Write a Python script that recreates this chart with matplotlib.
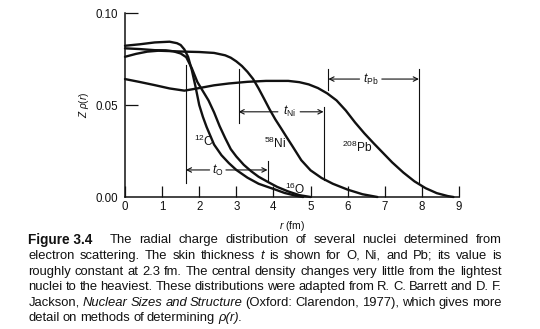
import matplotlib
matplotlib.use("Agg")
import matplotlib.pyplot as plt

plt.rcParams["font.family"] = ["Liberation Sans", "DejaVu Sans"]
plt.rcParams["mathtext.fontset"] = "custom"
plt.rcParams["mathtext.rm"] = "Liberation Sans"
plt.rcParams["mathtext.it"] = "Liberation Sans:italic"
plt.rcParams["mathtext.bf"] = "Liberation Sans:bold"

# Charge density Z*rho(r) read for each nucleus (r in fm)
r_c = [0, 0.4, 0.8, 1.2, 1.4, 1.5, 1.6, 1.7, 1.8, 1.9, 2.0, 2.1, 2.2, 2.4, 2.6, 2.8,
       3.0, 3.3, 3.6, 3.84, 4.0, 4.3, 4.6, 4.8]
rho_c = [0.0822, 0.0830, 0.0840, 0.0844, 0.0836, 0.0826, 0.0802, 0.0762, 0.0690,
         0.0600, 0.0500, 0.0435, 0.0380, 0.0285, 0.0227, 0.0184, 0.0147, 0.0105,
         0.0072, 0.0055, 0.0044, 0.0022, 0.0007, 0.0]

r_o = [0, 0.4, 0.8, 1.1, 1.3, 1.5, 1.65, 1.8, 1.95, 2.1, 2.25, 2.4, 2.55, 2.7, 2.85,
       3.0, 3.2, 3.4, 3.6, 3.84, 4.1, 4.4, 4.7, 5.0]
rho_o = [0.0808, 0.0804, 0.0798, 0.0797, 0.0792, 0.0780, 0.0760, 0.0700, 0.0625,
         0.0575, 0.0525, 0.0460, 0.0385, 0.0320, 0.0260, 0.0220, 0.0175, 0.0140,
         0.0110, 0.0083, 0.0055, 0.0030, 0.0010, 0.0]

r_ni = [0, 0.3, 0.6, 0.9, 1.2, 1.6, 2.0, 2.4, 2.7, 2.85, 3.0, 3.15, 3.3, 3.45, 3.6,
        3.75, 3.9, 4.05, 4.2, 4.35, 4.5, 4.75, 5.0, 5.3, 5.6, 6.0, 6.4, 6.8]
rho_ni = [0.0762, 0.0778, 0.0790, 0.0795, 0.0793, 0.0790, 0.0788, 0.0783, 0.0770,
          0.0757, 0.0737, 0.0712, 0.0680, 0.0642, 0.0590, 0.0533, 0.0475, 0.0422,
          0.0375, 0.0327, 0.0280, 0.0200, 0.0145, 0.0103, 0.0072, 0.0040, 0.0015,
          0.0]

r_pb = [0, 0.4, 0.8, 1.2, 1.6, 2.0, 2.4, 2.8, 3.3, 3.8, 4.4, 4.7, 4.95, 5.2, 5.45,
        5.7, 5.95, 6.2, 6.45, 6.7, 6.95, 7.2, 7.5, 7.8, 8.1, 8.4, 8.7, 8.85]
rho_pb = [0.0641, 0.0625, 0.0608, 0.0590, 0.0578, 0.0592, 0.0607, 0.0617, 0.0626,
          0.0631, 0.0631, 0.0624, 0.0612, 0.0592, 0.0563, 0.0525, 0.0470, 0.0405,
          0.0346, 0.0292, 0.0240, 0.0188, 0.0133, 0.0085, 0.0048, 0.0021, 0.0005,
          0.0]

# Skin thickness markers: (left r, right r, arrow height, left bar span, right bar span, label r)
skin_labels = [r"$t_{\mathrm{O}}$", r"$t_{\mathrm{Ni}}$", r"$t_{\mathrm{Pb}}$"]
skin_left = [1.64, 3.06, 5.48]
skin_right = [3.84, 5.35, 7.92]
skin_y = [0.0147, 0.0463, 0.0641]
skin_left_span = [(0.0076, 0.0717), (0.0400, 0.0694), (0.0580, 0.0696)]
skin_right_span = [(0.0080, 0.0196), (0.0092, 0.0490), (0.0076, 0.0696)]
skin_label_r = [2.50, 4.42, 6.62]

nuclei_labels = [r"$^{12}$C", r"$^{58}$Ni", r"$^{16}$O", r"$^{208}$Pb"]
nuclei_label_pos = [(2.13, 0.0300), (4.04, 0.0293), (4.58, 0.0043), (6.25, 0.0272)]

x_ticks = list(range(0, 10))
y_ticks = [0.00, 0.05, 0.10]
y_tick_labels = ["0.00", "0.05", "0.10"]

caption_lines = [
    [("Figure 3.4", "bold"), ("The", "n"), ("radial", "n"), ("charge", "n"),
     ("distribution", "n"), ("of", "n"), ("several", "n"), ("nuclei", "n"),
     ("determined", "n"), ("from", "n")],
    [("electron", "n"), ("scattering.", "n"), ("The", "n"), ("skin", "n"),
     ("thickness", "n"), ("t", "it"), ("is", "n"), ("shown", "n"), ("for", "n"),
     ("O,", "n"), ("Ni,", "n"), ("and", "n"), ("Pb;", "n"), ("its", "n"),
     ("value", "n"), ("is", "n")],
    [(w, "n") for w in "roughly constant at 2.3 fm. The central density changes very little from the lightest".split()],
    [(w, "n") for w in "nuclei to the heaviest. These distributions were adapted from R. C. Barrett and D. F.".split()],
    [("Jackson,", "n"), ("Nuclear", "it"), ("Sizes", "it"), ("and", "it"),
     ("Structure", "it"), ("(Oxford:", "n"), ("Clarendon,", "n"), ("1977),", "n"),
     ("which", "n"), ("gives", "n"), ("more", "n")],
    [("detail", "n"), ("on", "n"), ("methods", "n"), ("of", "n"),
     ("determining", "n"), ("ρ(r).", "it")],
]

W, H = 540, 329
fig = plt.figure(figsize=(W / 100, H / 100), dpi=100)
ax = fig.add_axes([125 / W, 1 - 197 / H, (459 - 125) / W, (197 - 13) / H])

lw = 1.7
ink = "#111111"
for rr, vv in [(r_c, rho_c), (r_o, rho_o), (r_ni, rho_ni), (r_pb, rho_pb)]:
    ax.plot(rr, vv, color=ink, lw=lw, solid_capstyle="round",
            solid_joinstyle="round", clip_on=False)

thin = 0.8
for lab, xl, xr, yy, ls, rs, xlab in zip(skin_labels, skin_left, skin_right, skin_y,
                                          skin_left_span, skin_right_span, skin_label_r):
    ax.plot([xl, xl], ls, color=ink, lw=thin)
    ax.plot([xr, xr], rs, color=ink, lw=thin)
    ax.text(xlab, yy, lab, ha="center", va="center", fontsize=8.8, color=ink)
    gap = 0.3 if "Pb" in lab or "Ni" in lab else 0.22
    arrow = dict(arrowstyle="->", color=ink, lw=thin, shrinkA=0, shrinkB=0,
                 mutation_scale=8)
    ax.annotate("", xy=(xl, yy), xytext=(xlab - gap, yy), arrowprops=arrow)
    ax.annotate("", xy=(xr, yy), xytext=(xlab + gap, yy), arrowprops=arrow)

for lab, (xp, yp) in zip(nuclei_labels, nuclei_label_pos):
    ax.text(xp, yp, lab, ha="center", va="center", fontsize=8.6, color=ink)

ax.set_xlim(0, 9)
ax.set_ylim(0, 0.1)
for s in ["top", "right"]:
    ax.spines[s].set_visible(False)
for s in ["left", "bottom"]:
    ax.spines[s].set_linewidth(1.1)
    ax.spines[s].set_color(ink)
ax.set_xticks(x_ticks)
ax.set_xticklabels([str(t) for t in x_ticks])
ax.set_yticks(y_ticks)
ax.set_yticklabels(y_tick_labels)
ax.tick_params(axis="x", direction="in", length=8, width=0.9, pad=3,
               labelsize=8.3, colors=ink)
ax.tick_params(axis="y", direction="in", length=9.5, width=0.9, pad=5,
               labelsize=8.3, colors=ink)
ax.yaxis.get_major_ticks()[0].tick1line.set_visible(False)
ax.set_xlabel(r"$r$ (fm)", fontsize=7.5, labelpad=4, color=ink)
ax.set_ylabel(r"$Z\ \rho(r)$", fontsize=7.2, labelpad=3, color=ink)

# Justified caption set word by word
renderer = fig.canvas.get_renderer()
left_px, right_px = 28.5, 501.5
line_y = [240, 256, 271.7, 287.3, 302.8, 318.3]
cap_size = 9.4
for i, (words, yc) in enumerate(zip(caption_lines, line_y)):
    objs = []
    for w, sty in words:
        kw = dict(fontsize=cap_size, color=ink, va="center", ha="left")
        if sty == "bold":
            kw["fontweight"] = "heavy"
            kw["fontsize"] = cap_size + 0.4
        elif sty == "it":
            kw["fontstyle"] = "italic"
        objs.append(fig.text(0, 1 - yc / H, w, **kw))
    widths = [o.get_window_extent(renderer).width for o in objs]
    last = i == len(caption_lines) - 1
    if last:
        space = [3.0] * (len(objs) - 1)
    else:
        total_gap = (right_px - left_px) - sum(widths)
        n = len(objs) - 1
        if words[0][1] == "bold":
            # wider break after the figure number
            unit = total_gap / (n + 1.5)
            space = [unit * 2.5] + [unit] * (n - 1)
        else:
            space = [total_gap / n] * n
    x = left_px
    for j, o in enumerate(objs):
        o.set_x(x / W)
        x += widths[j]
        if j < len(space):
            x += space[j]

fig.savefig("out.png", dpi=100)
